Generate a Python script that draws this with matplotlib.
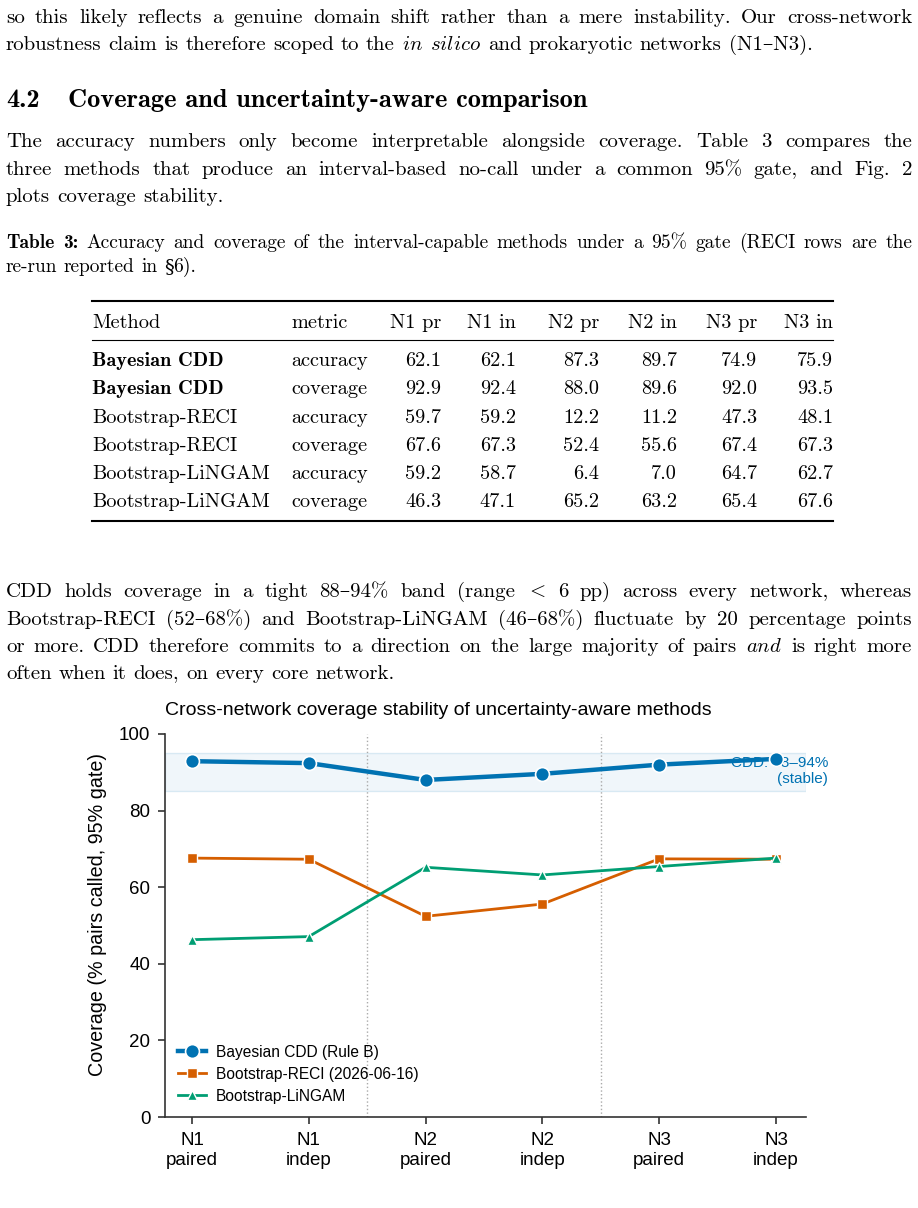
import matplotlib
matplotlib.use("Agg")
from matplotlib import pyplot as plt
from matplotlib.lines import Line2D

plt.rcParams['font.family'] = ['Liberation Sans', 'DejaVu Sans']
plt.rcParams['mathtext.fontset'] = 'cm'

# DATA

networks = ["N1\npaired", "N1\nindep", "N2\npaired", "N2\nindep", "N3\npaired", "N3\nindep"]
cdd_cov = [92.9, 92.4, 88.0, 89.6, 92.0, 93.5]
reci_cov = [67.6, 67.3, 52.4, 55.6, 67.4, 67.3]
lingam_cov = [46.3, 47.1, 65.2, 63.2, 65.4, 67.6]

table_cols = ["Method", "metric", "N1 pr", "N1 in", "N2 pr", "N2 in", "N3 pr", "N3 in"]
table_methods = ["Bayesian CDD", "Bayesian CDD", "Bootstrap-RECI", "Bootstrap-RECI",
                 "Bootstrap-LiNGAM", "Bootstrap-LiNGAM"]
table_metrics = ["accuracy", "coverage", "accuracy", "coverage", "accuracy", "coverage"]
table_values = [
    ["62.1", "62.1", "87.3", "89.7", "74.9", "75.9"],
    ["92.9", "92.4", "88.0", "89.6", "92.0", "93.5"],
    ["59.7", "59.2", "12.2", "11.2", "47.3", "48.1"],
    ["67.6", "67.3", "52.4", "55.6", "67.4", "67.3"],
    ["59.2", "58.7", "6.4", "7.0", "64.7", "62.7"],
    ["46.3", "47.1", "65.2", "63.2", "65.4", "67.6"],
]

W, H = 918, 1208
fig = plt.figure(figsize=(W / 100, H / 100), dpi=100)
renderer = fig.canvas.get_renderer()

RM = dict(family=['cmr10', 'DejaVu Serif'])
BF = dict(family=['cmb10', 'DejaVu Serif'])
DV = dict(family=['DejaVu Serif'])
styles = {"r": RM, "b": BF, "d": DV}

BODY = 15.0
TAB = 14.6
LEFT, RIGHT = 6, 912


def draw_line(tokens, y, size=BODY, x0=LEFT, x1=RIGHT, justify=True):
    # tokens: (text, style) or (text, style, glue); glue -> no space before it
    texts, glue = [], []
    for tok in tokens:
        s, st = tok[0], tok[1]
        glue.append(len(tok) > 2 and tok[2])
        if st == "i":
            t = fig.text(0, 0, r"$\mathit{" + s + "}$", fontsize=size, va='baseline')
        elif st == "m":
            t = fig.text(0, 0, "$" + s + "$", fontsize=size, va='baseline')
        else:
            t = fig.text(0, 0, s, fontsize=size, va='baseline', **styles[st])
        texts.append(t)
    widths = [t.get_window_extent(renderer).width for t in texts]
    space = 0.333 * size * 100 / 72
    ngaps = sum(1 for g in glue[1:] if not g)
    if justify and ngaps > 0:
        gap = (x1 - x0 - sum(widths)) / ngaps
    else:
        gap = space
    x = x0
    for i, (t, w) in enumerate(zip(texts, widths)):
        if i > 0 and not glue[i]:
            x += gap
        t.set_position((x / W, 1 - y / H))
        x += w


def words(s, st="r"):
    return [(w, st) for w in s.split()]


# paragraph 1
draw_line(words("so this likely reflects a genuine domain shift rather than a mere instability. Our cross-network"), 23)
draw_line(words("robustness claim is therefore scoped to the") + [("in", "i"), ("silico", "i")]
          + words("and prokaryotic networks (N1–N3)."), 50, justify=False)

# heading
HEAD = 19.0
fig.text(LEFT / W, 1 - 107 / H, "4.2", fontsize=HEAD, va='baseline', **BF)
fig.text(68 / W, 1 - 107 / H, "Coverage and uncertainty-aware comparison", fontsize=HEAD,
         va='baseline', **BF)

# paragraph 2
draw_line(words("The accuracy numbers only become interpretable alongside coverage.  Table 3 compares the"), 147)
draw_line(words("three methods that produce an interval-based no-call under a common 95% gate, and Fig. 2"), 175)
draw_line(words("plots coverage stability."), 202, justify=False)

# caption
CAP = 14.0
draw_line([("Table", "b"), ("3:", "b")]
          + words("Accuracy and coverage of the interval-capable methods under a 95% gate (RECI rows are the"),
          248, size=CAP)
draw_line(words("re-run reported in") + [("§", "d"), ("6).", "r", True)], 272, size=CAP, justify=False)

# table
TX0, TX1 = 92, 833
col_right = [441, 516, 599, 677, 757, 833]
fig.add_artist(Line2D([TX0 / W, TX1 / W], [1 - 301 / H] * 2, color='black', lw=1.5))
fig.add_artist(Line2D([TX0 / W, TX1 / W], [1 - 340 / H] * 2, color='black', lw=0.8))
fig.add_artist(Line2D([TX0 / W, TX1 / W], [1 - 521 / H] * 2, color='black', lw=1.5))
hy = 328
fig.text(92 / W, 1 - hy / H, table_cols[0], fontsize=TAB, va='baseline', **RM)
fig.text(291 / W, 1 - hy / H, table_cols[1], fontsize=TAB, va='baseline', **RM)
for c, xr in zip(table_cols[2:], col_right):
    fig.text(xr / W, 1 - hy / H, c, fontsize=TAB, va='baseline', ha='right', **RM)
row_y = [366, 394, 423, 451, 479, 507]
for i, ry in enumerate(row_y):
    st = BF if table_methods[i] == "Bayesian CDD" else RM
    fig.text(92 / W, 1 - ry / H, table_methods[i], fontsize=TAB, va='baseline', **st)
    fig.text(291 / W, 1 - ry / H, table_metrics[i], fontsize=TAB, va='baseline', **RM)
    for v, xr in zip(table_values[i], col_right):
        fig.text(xr / W, 1 - ry / H, v, fontsize=TAB, va='baseline', ha='right', **RM)

# paragraph 3
draw_line(words("CDD holds coverage in a tight 88–94% band (range") + [("<", "m")]
          + words("6 pp) across every network, whereas"), 597)
draw_line(words("Bootstrap-RECI (52–68%) and Bootstrap-LiNGAM (46–68%) fluctuate by 20 percentage points"), 625)
draw_line(words("or more. CDD therefore commits to a direction on the large majority of pairs") + [("and", "i")]
          + words("is right more"), 652)
draw_line(words("often when it does, on every core network."), 679, justify=False)

# CHART

ax = fig.add_axes([165 / W, 1 - 1117 / H, (806 - 165) / W, (1117 - 734) / H])
x = list(range(len(networks)))

ax.axhspan(85, 95, facecolor=(0, 0.447, 0.698, 0.06), edgecolor=(0, 0.447, 0.698, 0.12), lw=1, zorder=0)
ax.axvline(1.5, color='#aaaaaa', ls=':', lw=1, zorder=0.5)
ax.axvline(3.5, color='#aaaaaa', ls=':', lw=1, zorder=0.5)

ax.plot(x, cdd_cov, color='#0072B2', lw=3.2, marker='o', ms=10, mec='white', mew=1.2,
        label="Bayesian CDD (Rule B)", zorder=4)
ax.plot(x, reci_cov, color='#D55E00', lw=2, marker='s', ms=7.5, mec='white', mew=1,
        label="Bootstrap-RECI (2026-06-16)", zorder=3)
ax.plot(x, lingam_cov, color='#009E73', lw=2, marker='^', ms=7.5, mec='white', mew=1,
        label="Bootstrap-LiNGAM", zorder=3)

ax.text(5.445, 94.2, "CDD: 88–94%\n(stable)", ha='right', va='top', color='#0072B2',
        fontsize=11, linespacing=1.15, zorder=2)

ax.set_xlim(-0.231, 5.257)
ax.set_ylim(0, 100)
ax.set_xticks(x)
ax.set_xticklabels(networks, fontsize=13.5, linespacing=1.2)
ax.set_yticks([0, 20, 40, 60, 80, 100])
ax.tick_params(axis='y', labelsize=13.5, pad=5.5)
ax.tick_params(colors='#333333', length=5, width=1.2, labelcolor='black')
ax.tick_params(axis='x', pad=6)
for side in ['top', 'right']:
    ax.spines[side].set_visible(False)
for side in ['left', 'bottom']:
    ax.spines[side].set_color('#333333')
    ax.spines[side].set_linewidth(1.2)
ax.set_ylabel("Coverage (% pairs called, 95% gate)", fontsize=14.2)
ax.yaxis.set_label_coords(-0.09, 0.529)
ax.set_title("Cross-network coverage stability of uncertainty-aware methods", fontsize=14,
             loc='left', pad=14)
ax.legend(loc='lower left', frameon=False, fontsize=11.2, handlelength=1.8,
          labelspacing=0.45, borderaxespad=0.45, handletextpad=0.6)

fig.savefig("out.png", dpi=100)
